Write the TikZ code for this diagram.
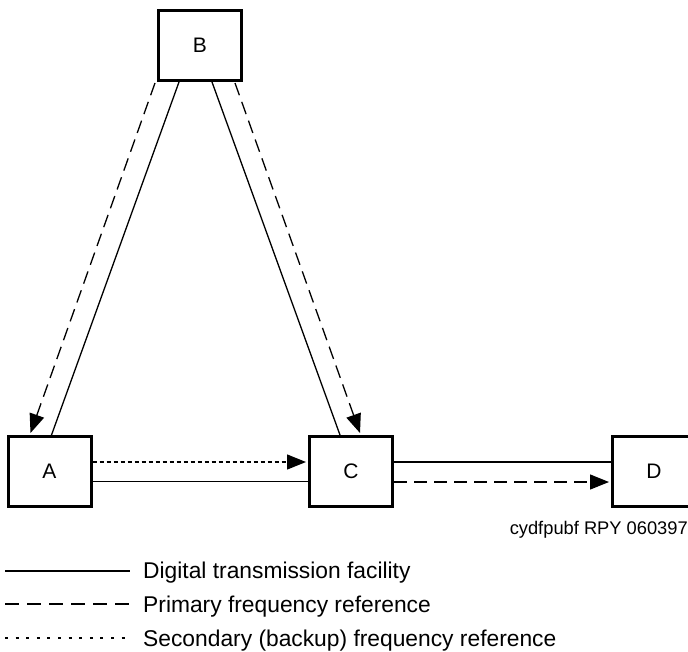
\documentclass[tikz,border=0pt]{standalone}
\usepackage{fontspec}
\setmainfont{Liberation Sans}
\usetikzlibrary{arrows.meta,calc}
\begin{document}
\begin{tikzpicture}[x=1pt,y=-1pt,
  station/.style={draw,line width=3pt,minimum width=83pt,minimum height=70pt,inner sep=0pt,font=\fontsize{21}{25}\selectfont},
  facility/.style={line width=1.3pt},
  primary/.style={line width=1.3pt,dash pattern=on 13pt off 7pt},
  secondary/.style={line width=1.3pt,dash pattern=on 4pt off 3pt},
  legsecondary/.style={line width=1.3pt,dash pattern=on 3pt off 7.6pt},
  tip/.style={-{Triangle[length=19pt,width=15pt]}},
  legtext/.style={anchor=base west,inner sep=0pt,font=\fontsize{22.8}{27}\selectfont}]
\clip (0,0) rectangle (688,651);
\fill[white] (0,0) rectangle (688,651);
\node[station] (B) at (200,45.5) {B};
\node[station] (A) at (49.5,471.5) {A};
\node[station] (C) at (351,471.5) {C};
\node[station] (D) at (654,471) {D};
% B - A
\draw[facility] ($(B.south west)+(22,0)$) -- ($(A.north west)+(45,0)$);
\draw[primary,tip] ($(B.south west)+(-2,1)$) -- ($(A.north west)+(24,-2)$);
% B - C
\draw[facility] ($(B.south west)+(55,0)$) -- ($(C.north west)+(32,0)$);
\draw[primary,tip] ($(B.south west)+(78,1)$) -- ($(C.north west)+(52,-2)$);
% A - C
\draw[secondary,tip] ($(A.east)+(0,-9.5)$) -- ($(C.west)+(-2,-9.5)$);
\draw[facility] ($(A.east)+(0,10)$) -- ($(C.west)+(0,10)$);
% C - D
\draw[facility] ($(C.east)+(0,-9.5)$) -- ($(D.west)+(0,-9)$);
\draw[primary,tip] ($(C.east)+(0,10.5)$) -- ($(D.west)+(-2,11)$);
% caption
\node[anchor=base east,inner sep=0pt,font=\fontsize{18.3}{22}\selectfont] (cap) at (688,534) {cydfpubf RPY 060397};
% legend
\coordinate (l1a) at (5,571); \coordinate (l1b) at (130,571);
\coordinate (l2a) at (5,604); \coordinate (l2b) at (130,604);
\coordinate (l3a) at (5,638); \coordinate (l3b) at (130,638);
\draw[facility] (l1a) -- (l1b);
\draw[primary,dash pattern=on 14pt off 8pt] (l2a) -- (l2b);
\draw[legsecondary] (l3a) -- (l3b);
\node[legtext] (t1) at (143,578) {Digital transmission facility};
\node[legtext] (t2) at (143,612) {Primary frequency reference};
\node[legtext] (t3) at (143,646) {Secondary (backup) frequency reference};
\end{tikzpicture}
\end{document}
